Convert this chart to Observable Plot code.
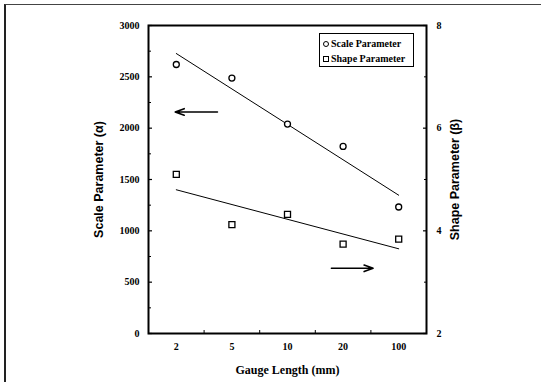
<!DOCTYPE html>
<html>
<head>
<meta charset="utf-8">
<script src="https://cdn.jsdelivr.net/npm/d3@7"></script>
<script src="https://cdn.jsdelivr.net/npm/@observablehq/plot@0.6"></script>
<style>
  body { margin: 0; background: #fff; }
  #wrap { position: relative; width: 541px; height: 382px; overflow: hidden; background: #fff; }
  #border { position: absolute; left: 4px; top: 4px; width: 560px; height: 400px;
            border-left: 2px solid #222; border-top: 1.5px solid #444; box-sizing: border-box; pointer-events: none; }
  #legend { position: absolute; left: 319px; top: 33px; width: 95px; height: 34px; box-sizing: border-box;
            border: 1px solid #000; background: #fff; font-family: "Liberation Serif", "DejaVu Serif", serif; font-weight: bold;
            font-size: 10px; color: #000; }
  #legend .row { position: absolute; left: 3px; display: flex; align-items: center; white-space: nowrap; line-height: 12px; }
  #legend .sym { display: inline-block; width: 4px; height: 4px; border: 1px solid #000; margin-right: 2px; }
  #legend .circ { border-radius: 50%; }
  svg text { font-family: "Liberation Serif", "DejaVu Serif", serif; }
  svg .sans text, svg text.sans { font-family: "Liberation Sans", "DejaVu Sans", sans-serif; }
</style>
</head>
<body>
<div id="wrap">
  <div id="chart"></div>
  <div id="border"></div>
  <div id="legend">
    <div class="row" style="top:4px"><span class="sym circ"></span>Scale Parameter</div>
    <div class="row" style="top:19px"><span class="sym"></span>Shape Parameter</div>
  </div>
</div>
<script>
// ---- data ----
const gaugeLengths = ["2", "5", "10", "20", "100"];          // mm (categorical axis)
const scaleParam   = [2620, 2488, 2040, 1822, 1232];         // α, left axis
const shapeParam   = [5.10, 4.12, 4.32, 3.74, 3.84];         // β, right axis
const scaleFit     = [2727, 1347];                            // fitted α at first / last gauge length
const shapeFit     = [4.80, 3.65];                            // fitted β at first / last gauge length
const leftTicks    = [0, 500, 1000, 1500, 2000, 2500, 3000];
const leftMinor    = [250, 750, 1250, 1750, 2250, 2750];
const rightTicks   = [2, 4, 6, 8];
const rightMinor   = [3, 5, 7];
const leftDomain   = [0, 3000];
const rightDomain  = [2, 8];
// arrow annotations: [gauge index start, gauge index end, value]
const arrowLeft    = {x1: 0.74, x2: -0.02, y: 2158};          // points to left axis (α units)
const arrowRight   = {x1: 2.79, x2: 3.54, y: 3.27};           // points to right axis (β units)

// map β onto the left (α) scale
const toLeft = v => leftDomain[0] + (v - rightDomain[0]) / (rightDomain[1] - rightDomain[0]) * (leftDomain[1] - leftDomain[0]);

const idx = gaugeLengths.map((d, i) => i);
const scaleData = idx.map(i => ({i, v: scaleParam[i]}));
const shapeData = idx.map(i => ({i, v: toLeft(shapeParam[i])}));
const last = gaugeLengths.length - 1;
const fitA = [{i: 0, v: scaleFit[0]}, {i: last, v: scaleFit[1]}];
const fitB = [{i: 0, v: toLeft(shapeFit[0])}, {i: last, v: toLeft(shapeFit[1])}];
const bounds = idx.slice(1).map(i => i - 0.5);

const serif = "Liberation Serif";
const sans = "Liberation Sans";

const chart = Plot.plot({
  width: 541,
  height: 382,
  marginLeft: 148,
  marginRight: 115,
  marginTop: 25,
  marginBottom: 49,
  style: {fontFamily: serif, fontWeight: "bold", fontSize: "10px", color: "#000", background: "transparent"},
  x: {type: "linear", domain: [-0.5, last + 0.5]},
  y: {domain: leftDomain},
  marks: [
    // left axis
    Plot.axisY({anchor: "left", ticks: leftTicks, tickFormat: d => String(d), tickSize: -4, tickPadding: 13, label: null, strokeWidth: 1.2}),
    Plot.axisY({anchor: "left", ticks: leftMinor, tickSize: -3, tickFormat: () => "", label: null, strokeWidth: 1}),
    // right axis (β)
    Plot.axisY({anchor: "right", ticks: rightTicks.map(toLeft), tickFormat: (d, k) => String(rightTicks[k]),
                tickSize: -4, tickPadding: 14, label: null, strokeWidth: 1.2}),
    Plot.axisY({anchor: "right", ticks: rightMinor.map(toLeft), tickSize: -3, tickFormat: () => "", label: null, strokeWidth: 1}),
    // bottom axis
    Plot.axisX({anchor: "bottom", ticks: idx, tickFormat: i => gaugeLengths[i], tickSize: 0, tickPadding: 9, label: null}),
    Plot.axisX({anchor: "bottom", ticks: bounds, tickFormat: () => "", tickSize: -3, label: null, strokeWidth: 1}),
    Plot.frame({stroke: "#000", strokeWidth: 2}),
    // fitted lines
    Plot.line(fitA, {x: "i", y: "v", stroke: "#000", strokeWidth: 1}),
    Plot.line(fitB, {x: "i", y: "v", stroke: "#000", strokeWidth: 1}),
    // data points
    Plot.dot(scaleData, {x: "i", y: "v", r: 3, symbol: "circle", stroke: "#000", strokeWidth: 1.3, fill: "#fff"}),
    Plot.dot(shapeData, {x: "i", y: "v", r: 3.4, symbol: "square", stroke: "#000", strokeWidth: 1.3, fill: "#fff"}),
    // arrows
    Plot.arrow([arrowLeft], {x1: "x1", x2: "x2", y1: "y", y2: "y", stroke: "#000", strokeWidth: 1.6, headLength: 9, headAngle: 40}),
    Plot.arrow([arrowRight], {x1: "x1", x2: "x2", y1: d => toLeft(d.y), y2: d => toLeft(d.y), stroke: "#000", strokeWidth: 1.6, headLength: 9, headAngle: 40}),
    // axis titles
    Plot.text(["Scale Parameter (α)"], {frameAnchor: "left", textAnchor: "middle", rotate: -90, dx: -50, fontFamily: sans, fontSize: 12.5, fontWeight: "bold", className: "sans"}),
    Plot.text(["Shape Parameter (β)"], {frameAnchor: "right", textAnchor: "middle", rotate: -90, dx: 28, fontFamily: sans, fontSize: 12.5, fontWeight: "bold", className: "sans"}),
    Plot.text(["Gauge Length (mm)"], {frameAnchor: "bottom", dy: 40, fontFamily: serif, fontSize: 12, fontWeight: "bold"})
  ]
});
document.getElementById("chart").appendChild(chart);
</script>
</body>
</html>
